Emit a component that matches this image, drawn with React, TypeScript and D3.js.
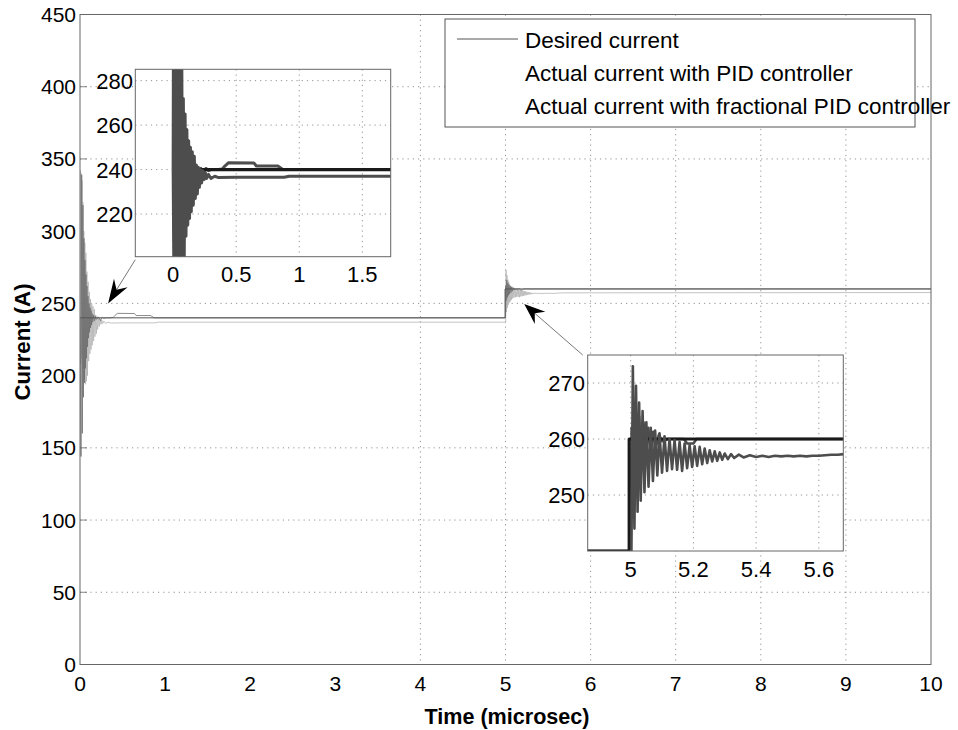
import React from 'react';
import * as d3 from 'd3';

const W = 958;
const H = 730;

// ---- main axes ticks ----
const xTicks = [0, 1, 2, 3, 4, 5, 6, 7, 8, 9, 10];
const yTicks = [0, 50, 100, 150, 200, 250, 300, 350, 400, 450];
const xGridTicks = [4, 5, 6, 7, 8, 9];
const yGridTicks = [50, 100, 150, 250, 350, 400];
const yTickMarks = [50, 100, 150, 250, 350, 400];

// ---- series ----
const desiredTime = [0, 4.995, 4.995, 10];
const desiredCurrent = [240, 240, 260, 260];

const pidTime = [
  0, 0.004, 0.009, 0.014, 0.019, 0.024, 0.029, 0.034, 0.039, 0.045, 0.051, 0.057, 0.063, 0.069,
  0.075, 0.081, 0.088, 0.095, 0.102, 0.109, 0.116, 0.123, 0.13, 0.137, 0.144, 0.152, 0.16, 0.168,
  0.176, 0.184, 0.192, 0.2, 0.208, 0.216, 0.226, 0.236, 0.246, 0.256, 0.266, 0.28, 0.3, 0.33, 0.36,
  0.5, 0.88, 0.92, 5.002,
  5.007, 5.012, 5.017, 5.022, 5.027, 5.032, 5.038, 5.044, 5.05, 5.057, 5.064, 5.071, 5.078, 5.085,
  5.092, 5.1, 5.108, 5.116, 5.124, 5.132, 5.14, 5.148, 5.156, 5.164, 5.172, 5.18, 5.188, 5.196,
  5.204, 5.212, 5.22, 5.228, 5.236, 5.244, 5.252, 5.26, 5.268, 5.276, 5.284, 5.292, 5.3, 5.31,
  5.32, 5.33, 5.345, 5.36, 5.38, 5.4, 5.42, 5.44, 5.46, 5.48, 5.5, 5.52, 5.54, 5.56, 5.58, 5.6,
  5.62, 5.64, 5.66, 5.68, 10,
];
const pidCurrent = [
  240, 342, 208, 340, 212, 335, 215, 320, 205, 300, 198, 292, 194, 285,
  196, 272, 200, 265, 210, 258, 215, 253, 218, 250, 221, 248, 224, 246,
  227, 242, 229, 241, 232, 240, 234, 239.5, 235.5, 238.5, 236, 237.8, 236, 237, 236.4,
  236.5, 236.5, 237, 237,
  273, 244, 269.5, 247, 266.5, 249, 265, 250.5, 263, 251.5, 262, 252.5, 261.5, 253.5,
  261, 254, 260.5, 254.3, 260, 254.6, 259.8, 254.5, 259.5, 254.3, 259.2, 254.8, 258.9, 255,
  258.7, 255.2, 258.6, 255.5, 258.3, 255.7, 258, 256, 257.8, 256.1, 257.6, 256.3, 257.4, 256.4,
  257.3, 256.6, 257.2, 256.7, 257.1, 256.8, 257, 256.8, 257, 256.9, 257, 256.9, 257, 256.9, 257,
  257, 257.1, 257.2, 257.2, 257.3, 257.5,
];

const fracTime = [
  0, 0.012, 0.02, 0.027, 0.034, 0.04, 0.046, 0.052, 0.058, 0.064, 0.07, 0.076, 0.082, 0.088,
  0.094, 0.1, 0.106, 0.112, 0.118, 0.124, 0.13, 0.136, 0.142, 0.15, 0.16, 0.17, 0.18, 0.19, 0.2,
  0.22, 0.24, 0.26, 0.28, 0.3, 0.36, 0.39, 0.41, 0.44, 0.64, 0.66, 0.83, 0.87, 5.0,
  5.003, 5.009, 5.015, 5.021, 5.027, 5.034, 5.041, 5.048, 5.056, 5.064, 5.072, 5.08, 5.09, 5.1,
  5.12, 5.17, 5.18, 5.2, 5.21, 10,
];
const fracCurrent = [
  240, 144, 339, 160, 318, 185, 295, 195, 280, 205, 270, 212, 262,
  220, 255, 226, 250, 230, 247, 233, 245, 235, 243, 237, 242, 238, 241, 239, 239.5,
  240.5, 238, 240.5, 239.5, 240, 240, 240.3, 241.6, 243.1, 243, 241.6, 241.6, 240, 240,
  262, 252, 266, 254, 264, 255.5, 263, 256.5, 262, 257.5, 261.3, 258.5, 260.8, 259.6,
  260, 260, 259.2, 259.2, 260, 260,
];

const legendLabels = [
  'Desired current',
  'Actual current with PID controller',
  'Actual current with fractional PID controller',
];

// ---- insets ----
const inset1XDomain = [-0.3, 1.725];
const inset1YDomain = [200.8, 285.1];
const inset1XTicks = [0, 0.5, 1, 1.5];
const inset1YTicks = [220, 240, 260, 280];

const inset2XDomain = [4.863, 5.678];
const inset2YDomain = [240, 275];
const inset2XTicks = [5, 5.2, 5.4, 5.6];
const inset2YTicks = [250, 260, 270];

// arrow targets in data coords
const arrow1Target = [0.33, 250];
const arrow2Target = [5.22, 249.5];

const FONT = "'Liberation Sans', Arial, Helvetica, sans-serif";

function toPts(t: number[], v: number[]) {
  return t.map((d, i) => [d, v[i]] as [number, number]);
}

function Arrow({ from, to, len, half, notch }: any) {
  const dx = to[0] - from[0];
  const dy = to[1] - from[1];
  const L = Math.hypot(dx, dy);
  const ux = dx / L, uy = dy / L;
  const px = -uy, py = ux;
  const bx = to[0] - ux * len, by = to[1] - uy * len;
  const nx = to[0] - ux * notch, ny = to[1] - uy * notch;
  const pts = [
    [to[0], to[1]],
    [bx + px * half, by + py * half],
    [nx, ny],
    [bx - px * half, by - py * half],
  ];
  return (
    <g>
      <line x1={from[0]} y1={from[1]} x2={nx} y2={ny} stroke="#555" strokeWidth={0.8} />
      <polygon points={pts.map((p) => p.join(',')).join(' ')} fill="#000" />
    </g>
  );
}

export default function App() {
  const x = d3.scaleLinear().domain([0, 10]).range([80, 931]);
  const y = d3.scaleLinear().domain([0, 450]).range([664.5, 14.5]);
  const line = d3.line<[number, number]>().x((d) => x(d[0])).y((d) => y(d[1]));

  const x1 = d3.scaleLinear().domain(inset1XDomain).range([135.3, 390.7]);
  const y1 = d3.scaleLinear().domain(inset1YDomain).range([256.7, 69.3]);
  const l1 = d3.line<[number, number]>().x((d) => x1(d[0])).y((d) => y1(d[1]));

  const x2 = d3.scaleLinear().domain(inset2XDomain).range([587.7, 843.3]);
  const y2 = d3.scaleLinear().domain(inset2YDomain).range([551, 355]);
  const l2 = d3.line<[number, number]>().x((d) => x2(d[0])).y((d) => y2(d[1]));

  const des = toPts(desiredTime, desiredCurrent);
  const pid = toPts(pidTime, pidCurrent);
  const frac = toPts(fracTime, fracCurrent);

  const dot = '1.2,4';

  const a1to = [x(arrow1Target[0]), y(arrow1Target[1])];
  const a1from = [x1.range()[0], y1.range()[0] + 3];
  const a2to = [x(arrow2Target[0]), y(arrow2Target[1])];
  const a2from = [x2.range()[0] - 5, y2.range()[1]];

  return (
    <svg width={W} height={H} style={{ position: 'absolute', left: 0, top: 0, background: '#fff' }} fontFamily={FONT}>
      <defs>
        <clipPath id="cMain"><rect x={80} y={14.5} width={851} height={650} /></clipPath>
        <clipPath id="c1"><rect x={135.3} y={69.3} width={255.4} height={187.4} /></clipPath>
        <clipPath id="c2"><rect x={587.7} y={355} width={255.6} height={196} /></clipPath>
      </defs>
      <rect x={0} y={0} width={W} height={H} fill="#fff" />

      {/* main grid */}
      {yGridTicks.map((t) => (
        <line key={'gy' + t} x1={80} x2={931} y1={y(t)} y2={y(t)} stroke="#777" strokeWidth={0.8} strokeDasharray={dot} />
      ))}
      {xGridTicks.map((t) => (
        <line key={'gx' + t} x1={x(t)} x2={x(t)} y1={14.5} y2={664.5} stroke="#777" strokeWidth={0.8} strokeDasharray={dot} />
      ))}
      {yTickMarks.map((t) => (
        <line key={'tm' + t} x1={80} x2={87} y1={y(t)} y2={y(t)} stroke="#666" strokeWidth={0.8} />
      ))}

      {/* main series */}
      <g clipPath="url(#cMain)" fill="none">
        <path d={line(pid) || ''} stroke="#b4b4b4" strokeWidth={0.8} />
        <path d={line(frac) || ''} stroke="#6e6e6e" strokeWidth={0.8} />
        <path d={line(des) || ''} stroke="#555" strokeWidth={1} />
      </g>

      {/* main box */}
      <rect x={80} y={14.5} width={851} height={650} fill="none" stroke="#666" strokeWidth={1} />

      {/* main tick labels */}
      {yTicks.map((t) => (
        <text key={'yl' + t} x={76} y={y(t) + 7.5} fontSize={21} textAnchor="end" fill="#000">{t}</text>
      ))}
      {xTicks.map((t) => (
        <text key={'xl' + t} x={x(t)} y={691} fontSize={21} textAnchor="middle" fill="#000">{t}</text>
      ))}

      {/* axis labels */}
      <text x={507} y={724} fontSize={22} fontWeight="bold" textAnchor="middle" textLength={165} lengthAdjust="spacingAndGlyphs">Time (microsec)</text>
      <text transform="translate(30,342) rotate(-90)" fontSize={22} fontWeight="bold" textAnchor="middle" textLength={117} lengthAdjust="spacingAndGlyphs">Current (A)</text>

      {/* legend */}
      <rect x={445} y={19} width={470} height={108} fill="#fff" stroke="#555" strokeWidth={1} />
      <line x1={457} x2={518} y1={39} y2={39} stroke="#555" strokeWidth={1} />
      {legendLabels.map((s, i) => (
        <text key={s} x={525} y={48 + i * 33} fontSize={22.5} fill="#000">{s}</text>
      ))}

      {/* arrows */}
      <Arrow from={a1from} to={a1to} len={24} half={8} notch={16} />
      <Arrow from={a2from} to={a2to} len={21} half={8} notch={14} />

      {/* inset 1 */}
      <rect x={135.3} y={69.3} width={255.4} height={187.4} fill="#fff" />
      {inset1YTicks.map((t) => (
        <line key={'i1gy' + t} x1={135.3} x2={390.7} y1={y1(t)} y2={y1(t)} stroke="#777" strokeWidth={0.8} strokeDasharray={dot} />
      ))}
      {inset1XTicks.map((t) => (
        <line key={'i1gx' + t} x1={x1(t)} x2={x1(t)} y1={69.3} y2={256.7} stroke="#777" strokeWidth={0.8} strokeDasharray={dot} />
      ))}
      <g clipPath="url(#c1)" fill="none" strokeLinejoin="round">
        <path d={l1(frac) || ''} stroke="#4d4d4d" strokeWidth={3} />
        <path d={l1(des) || ''} stroke="#1a1a1a" strokeWidth={3.2} />
        <path d={l1(pid) || ''} stroke="#4d4d4d" strokeWidth={3} />
      </g>
      <rect x={135.3} y={69.3} width={255.4} height={187.4} fill="none" stroke="#666" strokeWidth={1} />
      {inset1YTicks.map((t) => (
        <text key={'i1yl' + t} x={133} y={y1(t) + 8} fontSize={22} textAnchor="end">{t}</text>
      ))}
      {inset1XTicks.map((t) => (
        <text key={'i1xl' + t} x={x1(t)} y={281.5} fontSize={22} textAnchor="middle">{t}</text>
      ))}

      {/* inset 2 */}
      <rect x={587.7} y={355} width={255.6} height={196} fill="#fff" />
      {inset2YTicks.map((t) => (
        <line key={'i2gy' + t} x1={587.7} x2={843.3} y1={y2(t)} y2={y2(t)} stroke="#777" strokeWidth={0.8} strokeDasharray={dot} />
      ))}
      {inset2XTicks.map((t) => (
        <line key={'i2gx' + t} x1={x2(t)} x2={x2(t)} y1={355} y2={551} stroke="#777" strokeWidth={0.8} strokeDasharray={dot} />
      ))}
      <g clipPath="url(#c2)" fill="none" strokeLinejoin="round">
        <path d={l2(frac) || ''} stroke="#4d4d4d" strokeWidth={2.6} />
        <path d={l2(des) || ''} stroke="#1a1a1a" strokeWidth={3} />
        <path d={l2(pid) || ''} stroke="#4d4d4d" strokeWidth={2.6} />
      </g>
      <rect x={587.7} y={355} width={255.6} height={196} fill="none" stroke="#666" strokeWidth={1} />
      {inset2YTicks.map((t) => (
        <text key={'i2yl' + t} x={585} y={y2(t) + 8} fontSize={22} textAnchor="end">{t}</text>
      ))}
      {inset2XTicks.map((t) => (
        <text key={'i2xl' + t} x={x2(t)} y={577} fontSize={22} textAnchor="middle">{t}</text>
      ))}
    </svg>
  );
}
